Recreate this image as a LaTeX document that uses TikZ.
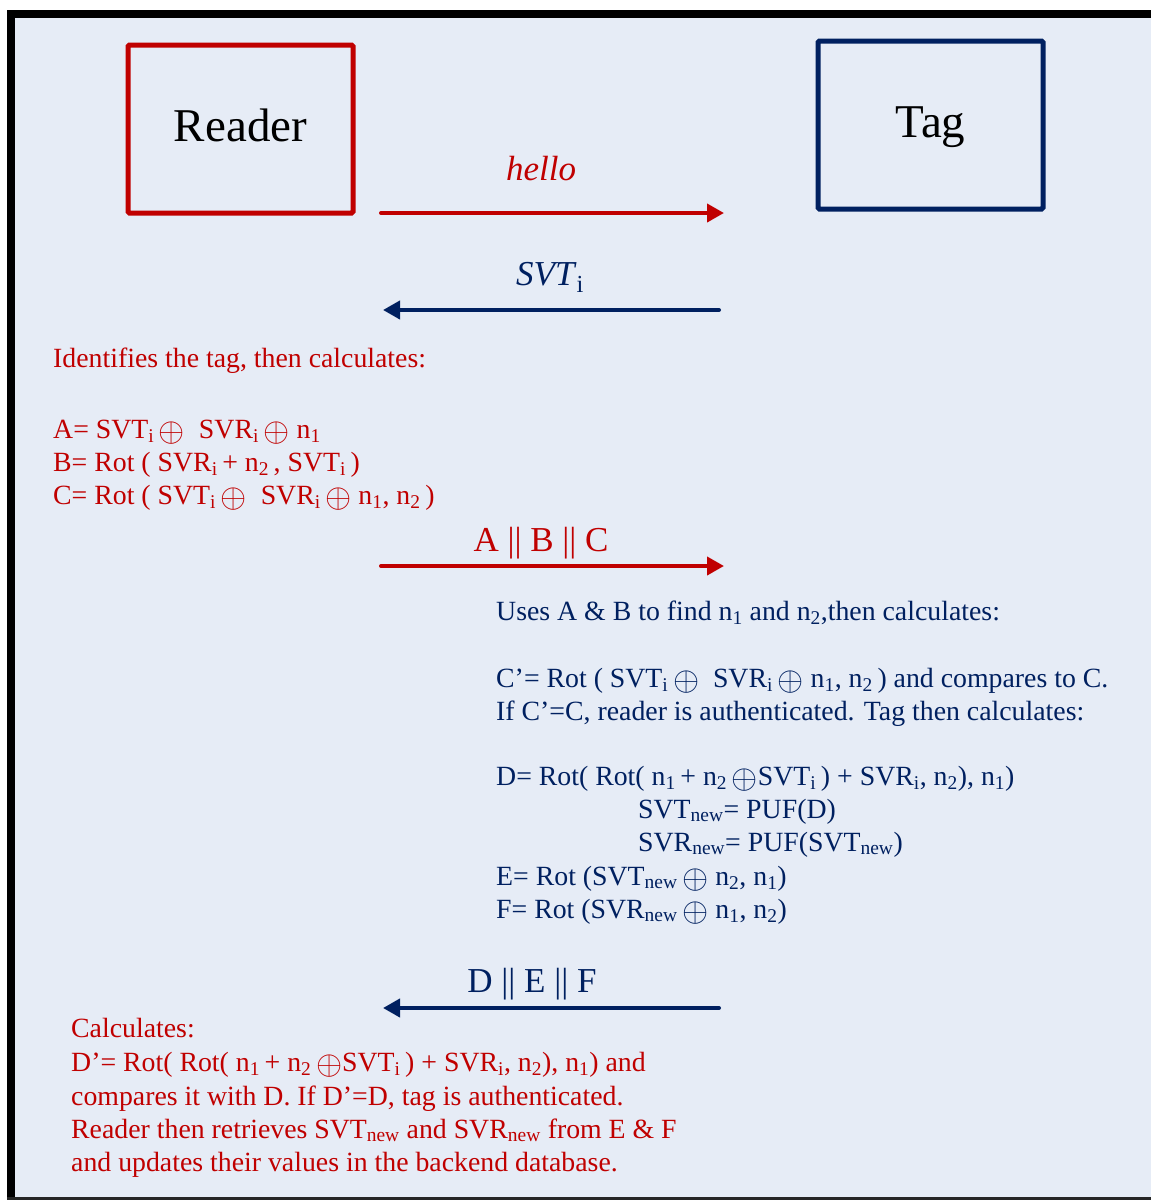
\documentclass[tikz,border=0pt]{standalone}
\usepackage{fontspec}
\usepackage{graphicx}
\setmainfont{Liberation Serif}
\usetikzlibrary{arrows.meta}
\definecolor{rred}{HTML}{C00000}
\definecolor{tnavy}{HTML}{002060}
\definecolor{bgblue}{HTML}{E6ECF6}
\newcommand{\sbs}[1]{\textsubscript{#1}}
\newcommand{\xo}{\raisebox{-0.12em}{\scalebox{1.35}{$\oplus$}}}
\tikzset{
  actor/.style={draw, line width=5pt, rounded corners=1.5pt, minimum width=225pt, minimum height=168pt, inner sep=0pt, text height=24pt, text depth=0pt, font=\fontsize{47}{50}\selectfont, text=black},
  msg/.style={line width=4pt, line cap=round, -{Triangle[length=17pt,width=18pt]}},
  lbl/.style={anchor=base, inner sep=0pt, font=\fontsize{35}{38}\selectfont},
  txt/.style={anchor=base west, inner sep=0pt, font=\fontsize{27.8}{33}\selectfont}
}
\begin{document}
\begin{tikzpicture}[x=1pt,y=-1pt]
\useasboundingbox (0,0) rectangle (1151,1200);
% frame
\fill[bgblue] (7,10) rectangle (1151,1200);
\draw[line width=8pt] (1151,14) -- (11,14) -- (11,1200);
\draw[line width=3pt, black!85] (7,1198.5) -- (1151,1198.5);
% actors
\node[actor, draw=rred] (reader) at (240.5,129) {Reader};
\node[actor, draw=tnavy] (tag) at (930.5,125) {Tag};
% message end points
\coordinate (m1a) at (381,213); \coordinate (m1b) at (724,213);
\coordinate (m2a) at (719,310); \coordinate (m2b) at (383,310);
\coordinate (m3a) at (381,566); \coordinate (m3b) at (724,566);
\coordinate (m4a) at (719,1008); \coordinate (m4b) at (383,1008);
\draw[msg, rred] (m1a) -- (m1b);
\draw[msg, tnavy] (m2a) -- (m2b);
\draw[msg, rred] (m3a) -- (m3b);
\draw[msg, tnavy] (m4a) -- (m4b);
% labels
\node[lbl, text=rred] (lhello) at (541,180) {\itshape hello};
\node[lbl, text=tnavy] (lsvt) at (550,285) {\itshape SVT\textup{\sbs{i}}};
\node[lbl, text=rred] (labc) at (541,551) {A || B || C};
\node[lbl, text=tnavy] (ldef) at (532,992) {D || E || F};
% reader calculations
\begin{scope}[every node/.style={txt, text=rred}]
\node (r1) at (53,367) {Identifies the tag, then calculates:};
\node (r2) at (53,438) {A= SVT\sbs{i}\,\xo\ \ SVR\sbs{i}\,\xo\ n\sbs{1}};
\node (r3) at (53,471) {B= Rot ( SVR\sbs{i}\,+ n\sbs{2}\,, SVT\sbs{i}\,)};
\node (r4) at (53,504) {C= Rot ( SVT\sbs{i}\,\xo\ \ SVR\sbs{i}\,\xo\ n\sbs{1}, n\sbs{2}\,)};
\end{scope}
% tag calculations
\begin{scope}[every node/.style={txt, text=tnavy}]
\node (t1) at (496,620) {Uses A \& B to find n\sbs{1} and n\sbs{2},then calculates:};
\node (t2) at (496,687) {C’= Rot ( SVT\sbs{i}\,\xo\ \ SVR\sbs{i}\,\xo\ n\sbs{1}, n\sbs{2}\,) and compares to C.};
\node (t3) at (496,720) {If C’=C, reader is authenticated. Tag then calculates:};
\node (t4) at (496,785) {D= Rot( Rot( n\sbs{1}\,+ n\sbs{2}\,\xo SVT\sbs{i}\,) + SVR\sbs{i}, n\sbs{2}), n\sbs{1})};
\node (t5) at (638,818) {SVT\sbs{new}= PUF(D)};
\node (t6) at (638,851) {SVR\sbs{new}= PUF(SVT\sbs{new})};
\node (t7) at (496,885) {E= Rot (SVT\sbs{new}\,\xo\ n\sbs{2}, n\sbs{1})};
\node (t8) at (496,918) {F= Rot (SVR\sbs{new}\,\xo\ n\sbs{1}, n\sbs{2})};
\end{scope}
% reader final
\begin{scope}[every node/.style={txt, text=rred}]
\node (b1) at (71,1037) {Calculates:};
\node (b2) at (71,1071) {D’= Rot( Rot( n\sbs{1}\,+ n\sbs{2}\,\xo SVT\sbs{i}\,) + SVR\sbs{i}, n\sbs{2}), n\sbs{1}) and};
\node (b3) at (71,1105) {compares it with D. If D’=D, tag is authenticated.};
\node (b4) at (71,1138) {Reader then retrieves SVT\sbs{new} and SVR\sbs{new} from E \& F};
\node (b5) at (71,1171) {and updates their values in the backend database.};
\end{scope}
\end{tikzpicture}
\end{document}
